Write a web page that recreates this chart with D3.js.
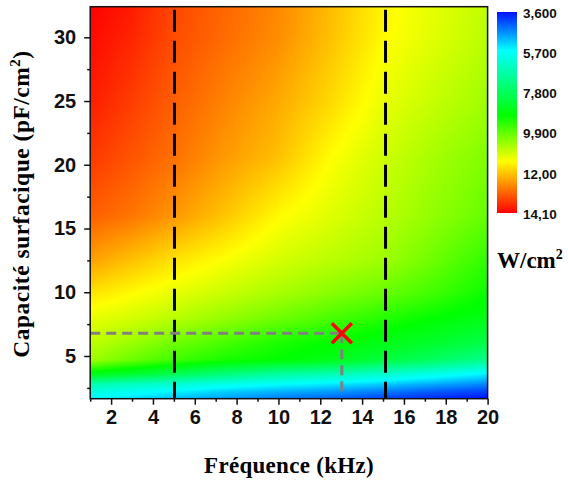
<!DOCTYPE html>
<html>
<head>
<meta charset="UTF-8">
<title>Densité de puissance</title>
<script src="https://d3js.org/d3.v7.min.js"></script>
<style>
  body { margin: 0; background: #fff; }
  .tick text { font-family: "Liberation Sans", Arial, sans-serif; font-weight: bold; }
</style>
</head>
<body>
<svg id="chart" width="568" height="486"></svg>
<script>
// frequency columns (kHz) and capacitance rows (pF/cm2)
var freqs = [1, 3, 5, 7.5, 10, 12.5, 15, 17.5, 20];
var caps = [1.65, 2.2, 2.8, 3.6, 4.7, 6, 8, 10, 12.5, 16, 20.5, 25, 30, 32.4];

// power density (W/cm2), one row per capacitance value, bottom to top
var p_1_65 = [5.6, 5.35, 5.1, 4.8, 4.5, 4.3, 4.0, 3.8, 3.6];
var p_2_2  = [6.0, 5.75, 5.5, 5.2, 4.95, 4.75, 4.5, 4.2, 4.0];
var p_2_8  = [6.7, 6.45, 6.2, 5.9, 5.65, 5.45, 5.2, 4.9, 4.6];
var p_3_6  = [8.75, 8.4, 7.95, 7.4, 6.9, 6.65, 6.3, 5.9, 5.5];
var p_4_7  = [10.5, 10.0, 9.6, 9.2, 9.0, 8.7, 8.2, 7.7, 7.1];
var p_6    = [10.8, 10.45, 10.05, 9.65, 9.25, 9.0, 8.7, 8.4, 8.0];
var p_8    = [11.2, 11.0, 10.75, 10.4, 10.05, 9.7, 9.35, 9.0, 8.7];
var p_10   = [11.7, 11.45, 11.2, 10.9, 10.6, 10.3, 10.0, 9.6, 9.1];
var p_12_5 = [12.4, 12.05, 11.7, 11.35, 11.0, 10.75, 10.5, 10.0, 9.45];
var p_16   = [13.1, 12.85, 12.5, 12.0, 11.45, 11.1, 10.75, 10.35, 9.95];
var p_20_5 = [13.5, 13.2, 12.9, 12.45, 12.05, 11.4, 10.95, 10.55, 10.2];
var p_25   = [13.8, 13.45, 13.1, 12.7, 12.3, 11.8, 11.2, 10.85, 10.5];
var p_30   = [14.0, 13.7, 13.3, 12.95, 12.6, 12.05, 11.45, 11.1, 10.75];
var p_32_4 = [14.1, 13.8, 13.35, 13.0, 12.65, 12.1, 11.5, 11.15, 10.8];
var power = [p_1_65, p_2_2, p_2_8, p_3_6, p_4_7, p_6, p_8, p_10, p_12_5, p_16, p_20_5, p_25, p_30, p_32_4];

// colour bar ticks
var cbarValues = [3.6, 5.7, 7.8, 9.9, 12.0, 14.1];
var cbarLabels = ["3,600", "5,700", "7,800", "9,900", "12,00", "14,10"];

// marked operating point and limits
var markF = 13.03, markC = 6.78;
var limitsF = [5.03, 15.12];

var xTicks = [2, 4, 6, 8, 10, 12, 14, 16, 18, 20];
var yTicks = [5, 10, 15, 20, 25, 30];

var svg = d3.select("#chart");

var x = d3.scaleLinear().domain([1, 20]).range([90.2, 487.6]);
var y = d3.scaleLinear().domain([1.65, 32.4]).range([398.7, 6.7]);

// rainbow colour map, blue (low) -> red (high)
var color = d3.scaleLinear()
        .domain([3.6, 5.6, 9.0, 11.4, 14.1])
        .range(["#0010ff", "#00ffff", "#00ff00", "#ffff00", "#ff0000"])
        .clamp(true);

// bilinear lookup in the grid
function valueAt(f, c) {
    var i = Math.min(Math.max(d3.bisectRight(freqs, f) - 1, 0), freqs.length - 2);
    var j = Math.min(Math.max(d3.bisectRight(caps, c) - 1, 0), caps.length - 2);
    var tf = (f - freqs[i]) / (freqs[i + 1] - freqs[i]);
    var tc = (c - caps[j]) / (caps[j + 1] - caps[j]);
    tf = Math.max(0, Math.min(1, tf));
    tc = Math.max(0, Math.min(1, tc));
    var a = power[j][i] * (1 - tf) + power[j][i + 1] * tf;
    var b = power[j + 1][i] * (1 - tf) + power[j + 1][i + 1] * tf;
    return a * (1 - tc) + b * tc;
}

// heat map drawn to a canvas, then put in the svg as an image
var x0 = x(1), x1 = x(20), y0 = y(32.4), y1 = y(1.65);
var w = Math.round(x1 - x0), h = Math.round(y1 - y0);
var canvas = document.createElement("canvas");
canvas.width = w;
canvas.height = h;
var ctx = canvas.getContext("2d");
var img = ctx.createImageData(w, h);
for (var py = 0; py < h; py++) {
    var c = y.invert(y0 + py + 0.5);
    for (var px = 0; px < w; px++) {
        var f = x.invert(x0 + px + 0.5);
        var col = d3.rgb(color(valueAt(f, c)));
        var k = (py * w + px) * 4;
        img.data[k] = col.r;
        img.data[k + 1] = col.g;
        img.data[k + 2] = col.b;
        img.data[k + 3] = 255;
    }
}
ctx.putImageData(img, 0, 0);

svg.append("image")
        .attr("x", x0).attr("y", y0)
        .attr("width", w).attr("height", h)
        .attr("preserveAspectRatio", "none")
        .attr("href", canvas.toDataURL());

// black dashed limits
svg.selectAll(".limit")
        .data(limitsF)
        .enter().append("line")
        .attr("class", "limit")
        .attr("x1", function (d) { return x(d); })
        .attr("x2", function (d) { return x(d); })
        .attr("y1", y0 + 3)
        .attr("y2", y1)
        .attr("stroke", "#000")
        .attr("stroke-width", 3)
        .attr("stroke-dasharray", "22,9");

// grey guide lines to the marked point
svg.append("line")
        .attr("x1", x0).attr("x2", x(markF))
        .attr("y1", y(markC)).attr("y2", y(markC))
        .attr("stroke", "#808080").attr("stroke-width", 3)
        .attr("stroke-dasharray", "10,6");
svg.append("line")
        .attr("x1", x(markF)).attr("x2", x(markF))
        .attr("y1", y(markC)).attr("y2", y1 - 3)
        .attr("stroke", "#808080").attr("stroke-width", 3)
        .attr("stroke-dasharray", "10,6");

// red cross
var mx = x(markF), my = y(markC), s = 10;
svg.append("path")
        .attr("d", "M" + (mx - s) + "," + (my - s) + "L" + (mx + s) + "," + (my + s) +
                "M" + (mx - s) + "," + (my + s) + "L" + (mx + s) + "," + (my - s))
        .attr("stroke", "#ff0000").attr("stroke-width", 3.5).attr("fill", "none");

// frame
svg.append("rect")
        .attr("x", x0).attr("y", y0)
        .attr("width", x1 - x0).attr("height", y1 - y0)
        .attr("fill", "none").attr("stroke", "#111").attr("stroke-width", 1.5);

// axes
svg.append("g")
        .attr("transform", "translate(0," + y1 + ")")
        .call(d3.axisBottom(x).tickValues(xTicks).tickSize(6).tickPadding(5).tickFormat(d3.format("d")));
svg.append("g")
        .attr("transform", "translate(0," + y1 + ")")
        .call(d3.axisBottom(x).tickValues(d3.range(1, 20, 2)).tickSize(3).tickFormat(""));

svg.append("g")
        .attr("transform", "translate(" + x0 + ",0)")
        .call(d3.axisLeft(y).tickValues(yTicks).tickSize(6).tickPadding(8).tickFormat(d3.format("d")));
svg.append("g")
        .attr("transform", "translate(" + x0 + ",0)")
        .call(d3.axisLeft(y).tickValues([2.5, 7.5, 12.5, 17.5, 22.5, 27.5]).tickSize(3).tickFormat(""));

svg.selectAll(".domain").remove();
svg.selectAll(".tick line").attr("stroke", "#111").attr("stroke-width", 1.5);
svg.selectAll(".tick text").attr("font-size", 20).attr("fill", "#111");

// axis titles
svg.append("text")
        .attr("x", 289).attr("y", 473)
        .attr("text-anchor", "middle")
        .style("font-family", "'Liberation Serif', serif")
        .style("font-weight", "bold")
        .style("font-size", "23px")
        .style("letter-spacing", "0.3px")
        .text("Fréquence (kHz)");

var yt = svg.append("text")
        .attr("transform", "translate(29,204) rotate(-90)")
        .attr("text-anchor", "middle")
        .style("font-family", "'Liberation Serif', serif")
        .style("font-weight", "bold")
        .style("font-size", "23.5px")
        .style("letter-spacing", "0.5px");
yt.append("tspan").text("Capacité surfacique (pF/cm");
yt.append("tspan").attr("dy", -9).style("font-size", "15px").text("2");
yt.append("tspan").attr("dy", 9).text(")");

// colour bar
var cb = d3.scaleLinear().domain([3.6, 14.1]).range([12, 213]);
var grad = svg.append("defs").append("linearGradient")
        .attr("id", "cbar").attr("x1", 0).attr("x2", 0).attr("y1", 0).attr("y2", 1);
grad.selectAll("stop")
        .data(color.domain())
        .enter().append("stop")
        .attr("offset", function (d) { return (cb(d) - 12) / 201; })
        .attr("stop-color", function (d) { return color(d); });

svg.append("rect")
        .attr("x", 497).attr("y", cb(3.6))
        .attr("width", 20).attr("height", cb(14.1) - cb(3.6))
        .attr("fill", "url(#cbar)");

svg.selectAll(".cblabel")
        .data(cbarValues)
        .enter().append("text")
        .attr("class", "cblabel")
        .attr("x", 523)
        .attr("y", function (d) { return cb(d) + 1; })
        .attr("dy", "0.35em")
        .style("font-family", "'Liberation Sans', Arial, sans-serif")
        .style("font-weight", "bold")
        .style("font-size", "13.5px")
        .attr("fill", "#111")
        .text(function (d, i) { return cbarLabels[i]; });

var unit = svg.append("text")
        .attr("x", 497).attr("y", 268)
        .style("font-family", "'Liberation Serif', serif")
        .style("font-weight", "bold")
        .style("font-size", "23px");
unit.append("tspan").text("W/cm");
unit.append("tspan").attr("dy", -9).style("font-size", "14px").text("2");
</script>
</body>
</html>
